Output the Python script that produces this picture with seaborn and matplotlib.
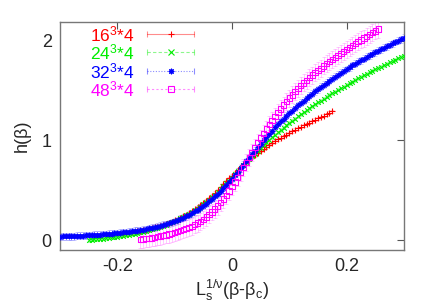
import numpy as np
import pandas as pd
import matplotlib
matplotlib.use("Agg")
import matplotlib.pyplot as plt
import seaborn as sns

# ── data ───────────────────────────────────────────────────────────────────
x16 = [-0.190, -0.185, -0.180, -0.175, -0.170, -0.165, -0.160, -0.155, -0.150, -0.145,
       -0.140, -0.135, -0.130, -0.125, -0.120, -0.115, -0.110, -0.105, -0.100, -0.095,
       -0.090, -0.085, -0.080, -0.075, -0.070, -0.065, -0.060, -0.055, -0.050, -0.045,
       -0.040, -0.035, -0.030, -0.025, -0.020, -0.015, -0.010, -0.005, 0.000, 0.005,
       0.010, 0.015, 0.020, 0.025, 0.030, 0.035, 0.040, 0.045, 0.050, 0.055,
       0.060, 0.065, 0.070, 0.075, 0.080, 0.085, 0.090, 0.095, 0.100, 0.105,
       0.110, 0.115, 0.120, 0.125, 0.130, 0.135, 0.140, 0.145, 0.150, 0.155,
       0.160, 0.165, 0.170, 0.175]
h16 = [0.065, 0.069, 0.073, 0.077, 0.082, 0.087, 0.092, 0.098, 0.104, 0.111,
       0.118, 0.126, 0.134, 0.143, 0.152, 0.162, 0.173, 0.185, 0.197, 0.210,
       0.224, 0.239, 0.255, 0.272, 0.290, 0.310, 0.330, 0.351, 0.373, 0.396,
       0.421, 0.447, 0.474, 0.502, 0.531, 0.560, 0.590, 0.619, 0.648, 0.677,
       0.705, 0.732, 0.758, 0.783, 0.807, 0.830, 0.853, 0.875, 0.896, 0.916,
       0.936, 0.955, 0.974, 0.992, 1.010, 1.027, 1.044, 1.060, 1.076, 1.092,
       1.107, 1.122, 1.137, 1.152, 1.166, 1.180, 1.194, 1.208, 1.222, 1.236,
       1.250, 1.264, 1.278, 1.292]

x24 = [-0.250, -0.245, -0.240, -0.235, -0.230, -0.225, -0.220, -0.215, -0.210, -0.205,
       -0.200, -0.195, -0.190, -0.185, -0.180, -0.175, -0.170, -0.165, -0.160, -0.155,
       -0.150, -0.145, -0.140, -0.135, -0.130, -0.125, -0.120, -0.115, -0.110, -0.105,
       -0.100, -0.095, -0.090, -0.085, -0.080, -0.075, -0.070, -0.065, -0.060, -0.055,
       -0.050, -0.045, -0.040, -0.035, -0.030, -0.025, -0.020, -0.015, -0.010, -0.005,
       0.000, 0.005, 0.010, 0.015, 0.020, 0.025, 0.030, 0.035, 0.040, 0.045,
       0.050, 0.055, 0.060, 0.065, 0.070, 0.075, 0.080, 0.085, 0.090, 0.095,
       0.100, 0.105, 0.110, 0.115, 0.120, 0.125, 0.130, 0.135, 0.140, 0.145,
       0.150, 0.155, 0.160, 0.165, 0.170, 0.175, 0.180, 0.185, 0.190, 0.195,
       0.200, 0.205, 0.210, 0.215, 0.220, 0.225, 0.230, 0.235, 0.240, 0.245,
       0.250, 0.255, 0.260, 0.265, 0.270, 0.275, 0.280, 0.285, 0.290, 0.295,
       0.300]
h24 = [0.000, 0.003, 0.006, 0.009, 0.012, 0.015, 0.019, 0.022, 0.026, 0.030,
       0.034, 0.038, 0.043, 0.048, 0.053, 0.058, 0.064, 0.070, 0.077, 0.084,
       0.091, 0.099, 0.107, 0.116, 0.125, 0.135, 0.145, 0.156, 0.167, 0.179,
       0.192, 0.205, 0.218, 0.232, 0.247, 0.263, 0.280, 0.298, 0.316, 0.336,
       0.357, 0.380, 0.403, 0.428, 0.455, 0.482, 0.510, 0.539, 0.568, 0.598,
       0.628, 0.659, 0.690, 0.720, 0.750, 0.780, 0.810, 0.840, 0.869, 0.897,
       0.925, 0.953, 0.980, 1.006, 1.032, 1.057, 1.082, 1.106, 1.130, 1.153,
       1.176, 1.198, 1.220, 1.242, 1.263, 1.284, 1.304, 1.324, 1.344, 1.363,
       1.382, 1.401, 1.420, 1.438, 1.456, 1.474, 1.491, 1.508, 1.525, 1.542,
       1.559, 1.575, 1.591, 1.607, 1.623, 1.639, 1.654, 1.669, 1.684, 1.699,
       1.714, 1.728, 1.742, 1.756, 1.770, 1.784, 1.798, 1.812, 1.825, 1.838,
       1.851]

x32 = [-0.300, -0.295, -0.290, -0.285, -0.280, -0.275, -0.270, -0.265, -0.260, -0.255,
       -0.250, -0.245, -0.240, -0.235, -0.230, -0.225, -0.220, -0.215, -0.210, -0.205,
       -0.200, -0.195, -0.190, -0.185, -0.180, -0.175, -0.170, -0.165, -0.160, -0.155,
       -0.150, -0.145, -0.140, -0.135, -0.130, -0.125, -0.120, -0.115, -0.110, -0.105,
       -0.100, -0.095, -0.090, -0.085, -0.080, -0.075, -0.070, -0.065, -0.060, -0.055,
       -0.050, -0.045, -0.040, -0.035, -0.030, -0.025, -0.020, -0.015, -0.010, -0.005,
       0.000, 0.005, 0.010, 0.015, 0.020, 0.025, 0.030, 0.035, 0.040, 0.045,
       0.050, 0.055, 0.060, 0.065, 0.070, 0.075, 0.080, 0.085, 0.090, 0.095,
       0.100, 0.105, 0.110, 0.115, 0.120, 0.125, 0.130, 0.135, 0.140, 0.145,
       0.150, 0.155, 0.160, 0.165, 0.170, 0.175, 0.180, 0.185, 0.190, 0.195,
       0.200, 0.205, 0.210, 0.215, 0.220, 0.225, 0.230, 0.235, 0.240, 0.245,
       0.250, 0.255, 0.260, 0.265, 0.270, 0.275, 0.280, 0.285, 0.290, 0.295,
       0.300]
h32 = [0.035, 0.036, 0.037, 0.038, 0.039, 0.040, 0.042, 0.043, 0.045, 0.046,
       0.048, 0.050, 0.051, 0.053, 0.055, 0.057, 0.059, 0.061, 0.064, 0.067,
       0.070, 0.073, 0.076, 0.079, 0.083, 0.087, 0.091, 0.095, 0.100, 0.105,
       0.110, 0.116, 0.122, 0.129, 0.136, 0.144, 0.152, 0.161, 0.170, 0.180,
       0.190, 0.201, 0.213, 0.226, 0.240, 0.255, 0.270, 0.287, 0.305, 0.324,
       0.345, 0.367, 0.390, 0.414, 0.440, 0.467, 0.495, 0.525, 0.555, 0.586,
       0.618, 0.651, 0.685, 0.720, 0.755, 0.790, 0.825, 0.860, 0.895, 0.930,
       0.965, 1.000, 1.035, 1.068, 1.100, 1.131, 1.162, 1.192, 1.220, 1.248,
       1.275, 1.301, 1.327, 1.352, 1.377, 1.401, 1.425, 1.448, 1.471, 1.494,
       1.516, 1.538, 1.559, 1.580, 1.601, 1.621, 1.641, 1.661, 1.680, 1.699,
       1.718, 1.736, 1.754, 1.772, 1.789, 1.806, 1.823, 1.839, 1.855, 1.871,
       1.887, 1.902, 1.917, 1.932, 1.947, 1.961, 1.975, 1.989, 2.003, 2.016,
       2.030]

x48 = [-0.160, -0.155, -0.150, -0.145, -0.140, -0.135, -0.130, -0.125, -0.120, -0.115,
       -0.110, -0.105, -0.100, -0.095, -0.090, -0.085, -0.080, -0.075, -0.070, -0.065,
       -0.060, -0.055, -0.050, -0.045, -0.040, -0.035, -0.030, -0.025, -0.020, -0.015,
       -0.010, -0.005, 0.000, 0.005, 0.010, 0.015, 0.020, 0.025, 0.030, 0.035,
       0.040, 0.045, 0.050, 0.055, 0.060, 0.065, 0.070, 0.075, 0.080, 0.085,
       0.090, 0.095, 0.100, 0.105, 0.110, 0.115, 0.120, 0.125, 0.130, 0.135,
       0.140, 0.145, 0.150, 0.155, 0.160, 0.165, 0.170, 0.175, 0.180, 0.185,
       0.190, 0.195, 0.200, 0.205, 0.210, 0.215, 0.220, 0.225, 0.230, 0.235,
       0.240, 0.245, 0.250, 0.255]
h48 = [0.005, 0.009, 0.013, 0.017, 0.022, 0.027, 0.033, 0.039, 0.045, 0.052,
       0.059, 0.067, 0.075, 0.084, 0.093, 0.103, 0.114, 0.126, 0.139, 0.154,
       0.170, 0.188, 0.208, 0.230, 0.255, 0.282, 0.310, 0.341, 0.375, 0.411,
       0.450, 0.491, 0.535, 0.582, 0.630, 0.680, 0.730, 0.780, 0.830, 0.880,
       0.930, 0.978, 1.025, 1.071, 1.115, 1.158, 1.200, 1.241, 1.280, 1.318,
       1.355, 1.391, 1.425, 1.458, 1.490, 1.521, 1.550, 1.578, 1.605, 1.631,
       1.656, 1.680, 1.703, 1.726, 1.749, 1.771, 1.793, 1.814, 1.835, 1.856,
       1.876, 1.896, 1.916, 1.935, 1.954, 1.973, 1.992, 2.010, 2.028, 2.046,
       2.064, 2.082, 2.100, 2.118]

# error bar half-widths (rough, per lattice)
err16, err24, err32, err48 = 0.014, 0.016, 0.035, 0.085

labels = ["16$^3$*4", "24$^3$*4", "32$^3$*4", "48$^3$*4"]
xticks = [-0.2, 0.0, 0.2]
xtick_labels = ["-0.2", "0", "0.2"]
yticks = [0, 1, 2]

# ── style ─────────────────────────────────────────────────────────────────
sns.set_theme(style="white")
plt.rcParams["font.family"] = ["Liberation Sans", "DejaVu Sans"]
plt.rcParams["mathtext.fontset"] = "custom"
plt.rcParams["mathtext.rm"] = "Liberation Sans"
plt.rcParams["mathtext.default"] = "regular"

series = [
    (x16, h16, err16, "#ff0000", "+", "-", 13),
    (x24, h24, err24, "#00ee00", "x", (0, (3, 2)), 11),
    (x32, h32, err32, "#0000ff", (8, 2, 0), (0, (1, 1.5)), 11),
    (x48, h48, err48, "#ff00ff", "s", (0, (2, 2)), 15),
]

fig = plt.figure(figsize=(4.36, 3.05), dpi=100)
ax = fig.add_axes([60 / 436, 1 - 250 / 305, 344 / 436, 228 / 305])

for xs, hs, e, c, m, ls, sz in series:
    df = pd.DataFrame({"x": xs, "h": hs})
    ax.errorbar(df["x"], df["h"], yerr=e, fmt="none", ecolor=c,
                elinewidth=0.5, capsize=1.5, capthick=0.5, alpha=0.3)
    if m == "s":
        sns.scatterplot(data=df, x="x", y="h", marker=m, s=sz, color="none",
                        edgecolor=c, linewidth=0.8, ax=ax, zorder=3)
    else:
        sns.scatterplot(data=df, x="x", y="h", marker=m, s=sz, color=c,
                        linewidth=0.8, ax=ax, zorder=3)

# gnuplot-style key, drawn by hand
rows = [0.947, 0.868, 0.785, 0.706]
for (xs, hs, e, c, m, ls, sz), lab, yr in zip(series, labels, rows):
    ax.text(0.218, yr, lab, color=c, fontsize=12.5, ha="right", va="center",
            transform=ax.transAxes)
    ax.plot([0.253, 0.39], [yr, yr], color=c, lw=0.8, ls=ls, alpha=0.45,
            transform=ax.transAxes)
    ax.plot([0.253, 0.39], [yr, yr], ls="none", marker="|", ms=4, mew=0.8,
            color=c, alpha=0.45, transform=ax.transAxes)
    if m == "s":
        ax.plot([0.3215], [yr], marker=m, ms=4, mfc="none", mec=c, mew=0.8,
                transform=ax.transAxes)
    else:
        ax.plot([0.3215], [yr], marker=m, ms=4, color=c, mew=0.8,
                transform=ax.transAxes)

ax.set_xlim(-0.3, 0.3)
ax.set_ylim(-0.1, 2.19)
ax.set_xticks(xticks)
ax.set_xticklabels(xtick_labels)
ax.set_yticks(yticks)
ax.tick_params(direction="in", length=5, width=0.8, color="#555555",
               top=True, right=True, labelsize=13, pad=6)
for sp in ax.spines.values():
    sp.set_color("#777777")
    sp.set_linewidth(1.0)

ax.set_xlabel(r"L$_s^{1/ν}$(β-β$_c$)", fontsize=13, labelpad=2)
ax.set_ylabel("h(β)", fontsize=13, labelpad=8)

fig.savefig("out.png", dpi=100)
